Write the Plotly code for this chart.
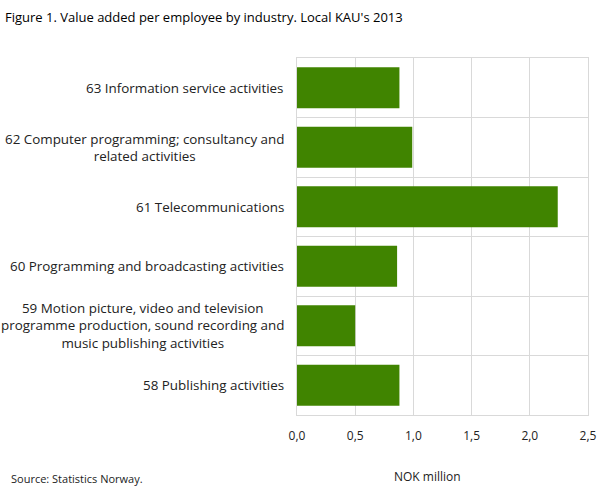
import plotly.graph_objects as go

# industries, bottom to top as drawn
categories = [
    "58 Publishing activities",
    "59 Motion picture, video and television<br>programme production, sound recording and<br>music publishing activities",
    "60 Programming and broadcasting activities",
    "61 Telecommunications",
    "62 Computer programming; consultancy and<br>related activities",
    "63 Information service activities",
]
values = [0.88, 0.50, 0.86, 2.24, 0.99, 0.88]
x_ticks = [0, 0.5, 1.0, 1.5, 2.0, 2.5]

grid = "#d9d9d9"
txt = "#222222"
font = "Open Sans"

fig = go.Figure(go.Bar(
    x=values,
    y=categories,
    orientation="h",
    marker=dict(color="#408400", line=dict(width=0)),
    hoverinfo="x+y",
))

# category labels, centered lines like the original
annotations = [
    dict(x=-11 / 298, y=c, xref="paper", yref="y", text=c, showarrow=False,
         xanchor="right", align="center", font=dict(family=font, size=13.4, color=txt))
    for c in categories
]
annotations.append(dict(x=-295 / 298, y=-63 / 357, xref="paper", yref="paper",
                        text="Source: Statistics Norway.", showarrow=False,
                        xanchor="left", yanchor="middle",
                        font=dict(family=font, size=11, color=txt)))
annotations.append(dict(x=(431 - 297) / 298, y=-61 / 357, xref="paper", yref="paper",
                        text="NOK million", showarrow=False,
                        xanchor="center", yanchor="middle",
                        font=dict(family=font, size=12, color=txt)))

fig.update_layout(
    width=609, height=488,
    margin=dict(l=297, r=14, t=58, b=73),
    paper_bgcolor="white", plot_bgcolor="white",
    separators=", ",
    bargap=0.31,
    showlegend=False,
    title=dict(text="Figure 1. Value added per employee by industry. Local KAU's 2013",
               x=5 / 609, xref="container", xanchor="left",
               y=1 - 17 / 488, yref="container", yanchor="middle",
               font=dict(family=font, size=13, color="#000000")),
    xaxis=dict(range=[0, 2.5], tickvals=x_ticks, tickformat=".1f",
               showgrid=True, gridcolor=grid, gridwidth=1,
               showline=True, linecolor=grid, mirror=True,
               zeroline=False, ticks="", ticklabelstandoff=10,
               tickfont=dict(family=font, size=12, color=txt)),
    yaxis=dict(type="category", tickson="boundaries", showticklabels=False,
               showgrid=True, gridcolor=grid, gridwidth=1,
               showline=True, linecolor=grid, mirror=True, ticks=""),
    annotations=annotations,
)

fig.write_html("out.html", config={"displayModeBar": False},
               post_script="document.body.style.margin='0px';")
